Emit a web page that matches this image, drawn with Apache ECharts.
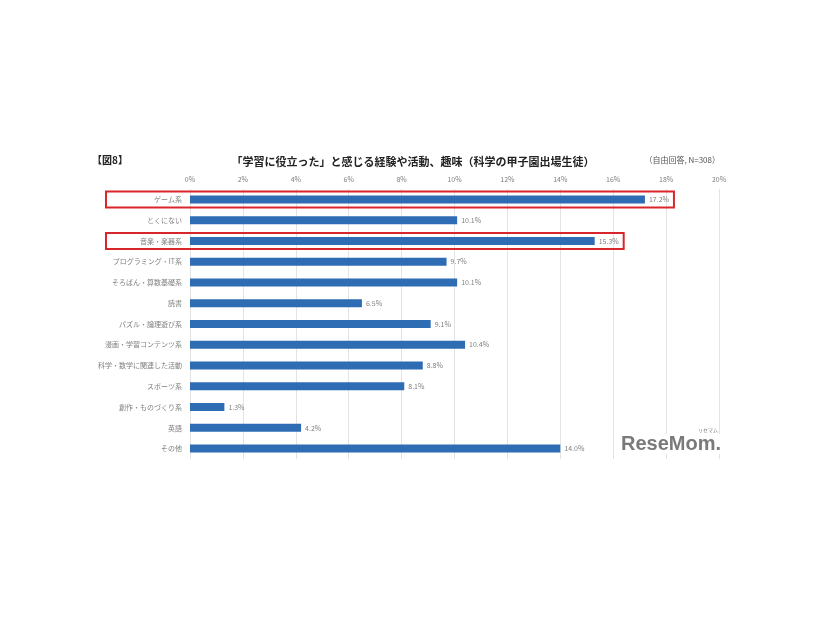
<!DOCTYPE html>
<html><head><meta charset="utf-8">
<script src="https://cdn.jsdelivr.net/npm/echarts@6/dist/echarts.min.js"></script>
<style>html,body{margin:0;padding:0;background:#fff}#c{width:826px;height:620px}</style>
</head><body><div id="c"></div>
<script>
const categories = ["ゲーム系","とくにない","音楽・楽器系","プログラミング・IT系","そろばん・算数基礎系","読書","パズル・論理遊び系","漫画・学習コンテンツ系","科学・数学に関連した活動","スポーツ系","創作・ものづくり系","英語","その他"];
const values = [17.2,10.1,15.3,9.7,10.1,6.5,9.1,10.4,8.8,8.1,1.3,4.2,14.0];
const highlighted = ["ゲーム系","音楽・楽器系"];
const titleText = "「学習に役立った」と感じる経験や活動、趣味（科学の甲子園出場生徒）";
const figLabel = "【図8】";
const noteText = "（自由回答, N=308）";

const font = '"Noto Sans CJK JP", "Noto Sans", sans-serif';
const chart = echarts.init(document.getElementById('c'), null, {renderer:'canvas'});
const option = {
  backgroundColor:'#fff',
  animation:false,
  textStyle:{fontFamily:font},
  grid:{left:190, right:107, top:189, height:270, containLabel:false},
  xAxis:{type:'value', position:'top', min:0, max:20, interval:2,
    axisLine:{show:false}, axisTick:{show:false},
    axisLabel:{formatter:'{value}%', color:'#7f7f7f', fontSize:7, margin:6, fontFamily:font},
    splitLine:{show:true, lineStyle:{color:'#e3e3e3', width:1}}},
  yAxis:{type:'category', inverse:true, data:categories,
    axisLine:{show:false}, axisTick:{show:false},
    axisLabel:{color:'#7f7f7f', fontSize:7, margin:8, fontFamily:font}},
  series:[{type:'bar', data:values, barWidth:8,
    itemStyle:{color:'#2e6db4'},
    label:{show:true, position:'right', distance:4, formatter:p=>p.value.toFixed(1)+'%', color:'#7f7f7f', fontSize:7, fontFamily:font}}],
  graphic:[
    {type:'text', left:92, top:155, style:{text:figLabel, font:'bold 10px '+font, fill:'#222'}},
    {type:'text', x:413, y:162, style:{text:titleText, font:'bold 11px '+font, fill:'#222', align:'center', verticalAlign:'middle'}},
    {type:'text', x:720, y:160, style:{text:noteText, font:'8px '+font, fill:'#555', align:'right', verticalAlign:'middle'}},
    {type:'text', x:721, y:444, z:100, style:{text:'ReseMom.', font:'bold 20px "Liberation Sans", Arial, sans-serif', fill:'#7a7a7a', align:'right', verticalAlign:'middle', backgroundColor:'#fff'}},
    {type:'text', x:708, y:430, z:100, style:{text:'リセマム', font:'5px '+font, fill:'#7a7a7a', align:'center', verticalAlign:'middle'}}
  ]
};
chart.setOption(option);
// red highlight boxes computed from data positions
const boxes = [];
highlighted.forEach((cat,i)=>{
  const idx = categories.indexOf(cat);
  const p = chart.convertToPixel({gridIndex:0},[values[idx], cat]);
  boxes.push({type:'rect', shape:{x:106, y:p[1]-8, width:(p[0]+29)-106, height:16},
    style:{fill:'none', stroke:'#d9262c', lineWidth:2}, z:100});
});
chart.setOption({graphic:option.graphic.concat(boxes)});
</script></body></html>
